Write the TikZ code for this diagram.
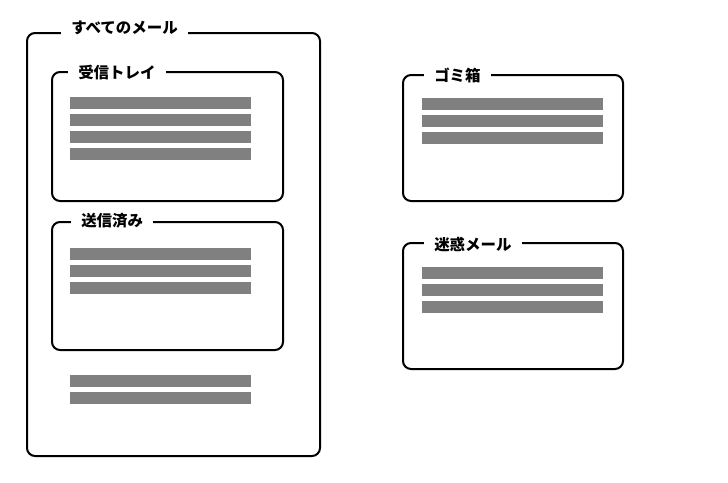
\documentclass[tikz,border=0pt]{standalone}
\usepackage{fontspec}
\setmainfont{Noto Sans CJK JP}

\begin{document}
\begin{tikzpicture}[
    x=0.75pt,
    y=-0.75pt,
    folder/.style={line width=1.5pt,rounded corners=6pt},
    foldertitle/.style={anchor=west,fill=white,inner xsep=7.5pt,inner ysep=1pt,
      font=\fontsize{11.6pt}{13pt}\selectfont\bfseries},
    mailbar/.style={fill=black!50}
  ]
    \useasboundingbox (0,0) rectangle (728,482);

    \draw[folder] (27,33) rectangle (320,456);
    \node[foldertitle] (alltitle) at (61,28) {すべてのメール};

    \draw[folder] (52,72) rectangle (283,201);
    \node[foldertitle] (inboxtitle) at (68,72.5) {受信トレイ};
    \foreach \y in {97,114,131,148}
      \fill[mailbar] (70,\y) rectangle (251,\y+12);

    \draw[folder] (52,222) rectangle (283,350);
    \node[foldertitle] (senttitle) at (71,220.5) {送信済み};
    \foreach \y in {248,265,282}
      \fill[mailbar] (70,\y) rectangle (251,\y+12);

    \foreach \y in {375,392}
      \fill[mailbar] (70,\y) rectangle (251,\y+12);

    \draw[folder] (403,75) rectangle (623,201);
    \node[foldertitle] (trashtitle) at (424,75) {ゴミ箱};
    \foreach \y in {98,115,132}
      \fill[mailbar] (422,\y) rectangle (603,\y+12);

    \draw[folder] (403,243) rectangle (623,369);
    \node[foldertitle] (spamtitle) at (424,244.5) {迷惑メール};
    \foreach \y in {267,284,301}
      \fill[mailbar] (422,\y) rectangle (603,\y+12);
  \end{tikzpicture}
\end{document}
